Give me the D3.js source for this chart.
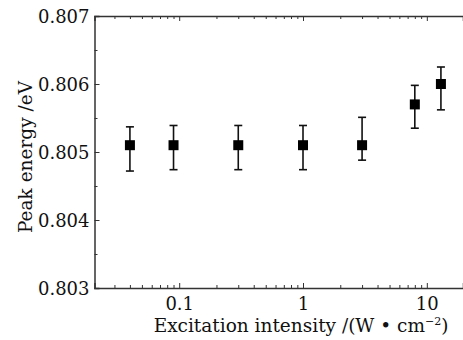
<!DOCTYPE html>
<html>
<head>
<meta charset="utf-8">
<script src="https://cdn.jsdelivr.net/npm/d3@7"></script>
<style>
  body { margin: 0; background: #fff; }
  svg { display: block; }
  text { font-family: "DejaVu Serif", "Liberation Serif", serif; fill: #111; }
</style>
</head>
<body>
<div id="chart"></div>
<script>
// excitation intensity (W/cm^2) and peak energy (eV) with error bar bounds
const intensity = [0.04, 0.09, 0.3, 1, 3, 8, 13];
const energy    = [0.8051, 0.8051, 0.8051, 0.8051, 0.8051, 0.8057, 0.8060];
const errHigh   = [0.80537, 0.80539, 0.80539, 0.80539, 0.80551, 0.80598, 0.80625];
const errLow    = [0.80472, 0.80474, 0.80474, 0.80474, 0.80488, 0.80535, 0.80562];

const yTicks = [0.803, 0.804, 0.805, 0.806, 0.807];
const yMinor = [0.8035, 0.8045, 0.8055, 0.8065];
const xTicks = [0.1, 1, 10];

const width = 463, height = 340;
const margin = { top: 16, bottom: 52, left: 94.5, right: 0 };

const svg = d3.select('#chart').append('svg')
  .attr('width', width)
  .attr('height', height);

const xScale = d3.scaleLog()
  .domain([0.0207, 19.6])
  .range([margin.left, width - margin.right]);
const yScale = d3.scaleLinear()
  .domain([0.803, 0.807])
  .range([height - margin.bottom, margin.top]);

const data = intensity.map((d, i) => ({ x: d, y: energy[i], hi: errHigh[i], lo: errLow[i] }));

// log minor ticks inside domain
const xMinor = xScale.ticks().filter(t => xTicks.indexOf(t) < 0);

/* ---------- axes ---------- */
const bottom = svg.append('g')
  .attr('class', 'axis axis--x')
  .attr('transform', 'translate(0,' + yScale(0.803) + ')')
  .call(d3.axisBottom(xScale).tickValues(xTicks).tickSize(-5).tickPadding(9)
    .tickFormat(d => d3.format('~g')(d)));
svg.append('g')
  .attr('transform', 'translate(0,' + yScale(0.803) + ')')
  .call(d3.axisBottom(xScale).tickValues(xMinor).tickSize(-3).tickFormat(''))
  .select('.domain').remove();

svg.append('g')
  .attr('transform', 'translate(0,' + yScale(0.807) + ')')
  .call(d3.axisTop(xScale).tickValues(xTicks).tickSize(-5).tickFormat(''));
svg.append('g')
  .attr('transform', 'translate(0,' + yScale(0.807) + ')')
  .call(d3.axisTop(xScale).tickValues(xMinor).tickSize(-3).tickFormat(''))
  .select('.domain').remove();

const left = svg.append('g')
  .attr('class', 'axis axis--y')
  .attr('transform', 'translate(' + margin.left + ',0)')
  .call(d3.axisLeft(yScale).tickValues(yTicks).tickSize(-5).tickPadding(5)
    .tickFormat(d3.format('.3f')));
svg.append('g')
  .attr('transform', 'translate(' + margin.left + ',0)')
  .call(d3.axisLeft(yScale).tickValues(yMinor).tickSize(-3).tickFormat(''))
  .select('.domain').remove();

svg.selectAll('.domain').attr('stroke', '#333').attr('stroke-width', 1.5);
svg.selectAll('.tick line').attr('stroke', '#333').attr('stroke-width', 1);
svg.selectAll('.tick text').style('font-size', '18px').attr('fill', '#111');
left.selectAll('.tick text').attr('dy', '0.36em');
bottom.selectAll('.tick text').attr('dy', '0.7em');

/* ---------- error bars ---------- */
const capW = 8;
const bars = svg.append('g').attr('class', 'errbars')
  .selectAll('g').data(data).enter().append('g')
  .attr('stroke', '#111').attr('stroke-width', 1.6);
bars.append('line')
  .attr('x1', d => xScale(d.x)).attr('x2', d => xScale(d.x))
  .attr('y1', d => yScale(d.hi)).attr('y2', d => yScale(d.lo));
bars.append('line')
  .attr('x1', d => xScale(d.x) - capW / 2).attr('x2', d => xScale(d.x) + capW / 2)
  .attr('y1', d => yScale(d.hi)).attr('y2', d => yScale(d.hi));
bars.append('line')
  .attr('x1', d => xScale(d.x) - capW / 2).attr('x2', d => xScale(d.x) + capW / 2)
  .attr('y1', d => yScale(d.lo)).attr('y2', d => yScale(d.lo));

/* ---------- markers ---------- */
const sq = 10;
svg.append('g').attr('class', 'points')
  .selectAll('rect').data(data).enter().append('rect')
  .attr('x', d => xScale(d.x) - sq / 2)
  .attr('y', d => yScale(d.y) - sq / 2)
  .attr('width', sq)
  .attr('height', sq)
  .attr('fill', '#000');

/* ---------- titles ---------- */
const xt = svg.append('text')
  .attr('x', 301)
  .attr('y', 332)
  .attr('text-anchor', 'middle')
  .style('font-size', '18.5px');
xt.append('tspan').text('Excitation intensity /(W \u2022 cm');
xt.append('tspan').attr('dy', -7).style('font-size', '11px').text('\u22122');
xt.append('tspan').attr('dy', 7).text(')');

svg.append('text')
  .attr('transform', 'translate(32,157) rotate(-90)')
  .attr('text-anchor', 'middle')
  .style('font-size', '18.5px')
  .text('Peak energy /eV');
</script>
</body>
</html>
